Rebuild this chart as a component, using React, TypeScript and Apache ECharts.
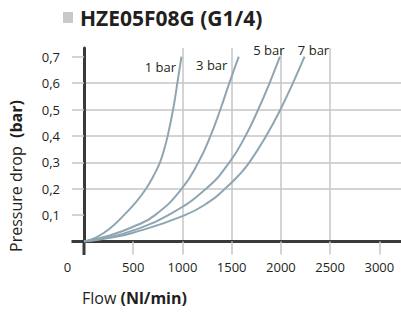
import React, { useEffect, useRef } from 'react';
import * as echarts from 'echarts';

const chartTitle = 'HZE05F08G (G1/4)';
const xTickValues = [0, 500, 1000, 1500, 2000, 2500, 3000];
const yTickValues = [0, 0.1, 0.2, 0.3, 0.4, 0.5, 0.6, 0.7];

const flow1 = [0, 120, 265, 406, 530, 630, 708, 772, 815, 850, 905, 948, 990];
const drop1 = [0, 0.015, 0.05, 0.1, 0.15, 0.2, 0.25, 0.3, 0.35, 0.4, 0.5, 0.6, 0.7];

const flow3 = [0, 250, 500, 722, 993, 1162, 1285, 1385, 1476, 1572];
const drop3 = [0, 0.022, 0.056, 0.1, 0.2, 0.3, 0.4, 0.5, 0.6, 0.7];

const flow5 = [0, 250, 500, 857, 1240, 1477, 1640, 1770, 1885, 1990];
const drop5 = [0, 0.016, 0.042, 0.1, 0.2, 0.3, 0.4, 0.5, 0.6, 0.7];

const flow7 = [0, 250, 500, 1026, 1270, 1433, 1570, 1680, 1850, 1995, 2122, 2240];
const drop7 = [0, 0.013, 0.033, 0.1, 0.15, 0.2, 0.25, 0.3, 0.4, 0.5, 0.6, 0.7];

const curveNames = ['1 bar', '3 bar', '5 bar', '7 bar'];

const FONT = '"Open Sans", "Noto Sans", sans-serif';
const TEXT = '#231f20';
const GRID = '#c6c6c6';
const AXIS = '#3a3a3a';
const CURVE = '#8fa6b2';

export default function App() {
  const ref = useRef<HTMLDivElement>(null);
  useEffect(() => {
    if (!ref.current) return;
    const chart = echarts.init(ref.current, null, { renderer: 'svg' });
    const curves = [
      { name: curveNames[0], flow: flow1, drop: drop1, offset: [-21, 10] },
      { name: curveNames[1], flow: flow3, drop: drop3, offset: [-27, 8] },
      { name: curveNames[2], flow: flow5, drop: drop5, offset: [-11, -7] },
      { name: curveNames[3], flow: flow7, drop: drop7, offset: [9, -7] },
    ];
    chart.setOption({
      animation: false,
      grid: { left: 84, right: 0, top: 48, bottom: 71.5 },
      xAxis: {
        type: 'value',
        min: 0,
        max: 3220,
        interval: 500,
        axisLine: { show: true, onZero: false, lineStyle: { color: AXIS, width: 3 } },
        axisTick: {
          show: true,
          length: 13,
          customValues: xTickValues.slice(1),
          lineStyle: { color: GRID, width: 1.5 },
        },
        splitLine: { show: true, showMinLine: false, showMaxLine: false, lineStyle: { color: GRID, width: 1.5 } },
        axisLabel: {
          customValues: xTickValues,
          margin: 19,
          fontSize: 13,
          fontFamily: FONT,
          color: TEXT,
          formatter: (v: number) => (v === 0 ? '{z|0}' : String(v)),
          rich: { z: { fontSize: 13, fontFamily: FONT, color: TEXT, padding: [0, 33, 0, 0] } },
        },
      },
      yAxis: {
        type: 'value',
        min: 0,
        max: 0.733,
        interval: 0.1,
        axisLine: { show: true, onZero: false, lineStyle: { color: AXIS, width: 3 } },
        axisTick: {
          show: true,
          length: 12,
          customValues: yTickValues.slice(1),
          lineStyle: { color: GRID, width: 1.5 },
        },
        splitLine: { show: true, showMinLine: false, showMaxLine: false, lineStyle: { color: GRID, width: 1.5 } },
        axisLabel: {
          customValues: yTickValues.slice(1),
          margin: 24,
          fontSize: 13,
          fontFamily: FONT,
          color: TEXT,
          formatter: (v: number) => v.toFixed(1).replace('.', ','),
        },
      },
      series: curves.map((c) => ({
        type: 'line',
        name: c.name,
        data: c.flow.map((f, i) => [f, c.drop[i]]),
        smooth: 0.5,
        showSymbol: false,
        symbol: 'none',
        silent: true,
        lineStyle: { color: CURVE, width: 2 },
        z: 3,
        markPoint: {
          symbol: 'circle',
          symbolSize: 1,
          silent: true,
          itemStyle: { color: 'rgba(0,0,0,0)' },
          data: [
            {
              coord: [c.flow[c.flow.length - 1], c.drop[c.drop.length - 1]],
              label: {
                show: true,
                position: 'inside',
                offset: c.offset,
                formatter: c.name,
                fontSize: 13,
                fontFamily: FONT,
                color: TEXT,
              },
            },
          ],
        },
      })),
    });

    const o = chart.convertToPixel({ gridIndex: 0 }, [0, 0]) as number[];
    chart.setOption({
      graphic: [
        { type: 'rect', shape: { x: 63, y: 12, width: 10, height: 11 }, style: { fill: '#c9c9c9' } },
        {
          type: 'text',
          x: 80,
          y: 18,
          style: {
            text: chartTitle,
            fontSize: 21,
            fontWeight: 'bold',
            fontFamily: FONT,
            fill: TEXT,
            align: 'left',
            verticalAlign: 'middle',
          },
        },
        {
          type: 'text',
          x: 16,
          y: 176,
          rotation: Math.PI / 2,
          style: {
            text: '{a|Pressure drop  }{b|(bar)}',
            align: 'center',
            verticalAlign: 'middle',
            rich: {
              a: { fontSize: 16, fontFamily: FONT, fill: TEXT, color: TEXT },
              b: { fontSize: 16, fontFamily: FONT, fontWeight: 'bold', fill: TEXT, color: TEXT },
            },
          },
        },
        {
          type: 'text',
          x: 82,
          y: 298,
          style: {
            text: '{a|Flow }{b|(Nl/min)}',
            align: 'left',
            verticalAlign: 'middle',
            rich: {
              a: { fontSize: 16, fontFamily: FONT, fill: TEXT, color: TEXT },
              b: { fontSize: 16, fontFamily: FONT, fontWeight: 'bold', fill: TEXT, color: TEXT },
            },
          },
        },
        {
          type: 'line',
          shape: { x1: o[0] - 12.5, y1: o[1], x2: o[0], y2: o[1] },
          style: { stroke: AXIS, lineWidth: 3 },
        },
        {
          type: 'line',
          shape: { x1: o[0], y1: o[1], x2: o[0], y2: o[1] + 13.5 },
          style: { stroke: AXIS, lineWidth: 3 },
        },
      ],
    });
    return () => chart.dispose();
  }, []);
  return <div ref={ref} style={{ position: 'absolute', left: 0, top: 0, width: 401, height: 313 }} />;
}
